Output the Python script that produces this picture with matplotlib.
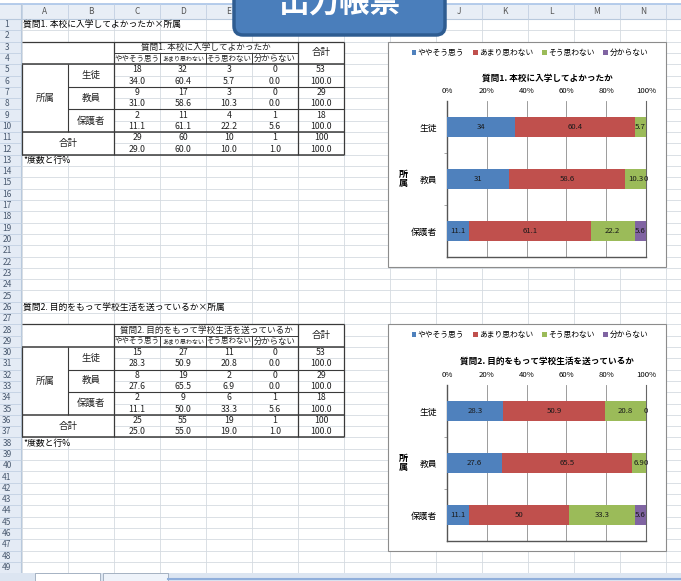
import matplotlib
matplotlib.use('Agg')
import matplotlib.pyplot as plt
import numpy as np
from matplotlib.patches import Rectangle, FancyBboxPatch

plt.rcParams['font.family'] = ['Noto Sans CJK JP', 'DejaVu Sans']

# --- data ---
groups = ['生徒', '教員', '保護者']
answers = ['ややそう思う', 'あまり思わない', 'そう思わない', '分からない']
row_totals = [53, 29, 18]
grand_total = 100

q1_title = '質問1. 本校に入学してよかったか'
q1_counts = [[18, 32, 3, 0], [9, 17, 3, 0], [2, 11, 4, 1]]
q1_pct = [[34.0, 60.4, 5.7, 0.0], [31.0, 58.6, 10.3, 0.0], [11.1, 61.1, 22.2, 5.6]]
q1_total_counts = [29, 60, 10, 1]
q1_total_pct = [29.0, 60.0, 10.0, 1.0]

q2_title = '質問2. 目的をもって学校生活を送っているか'
q2_counts = [[15, 27, 11, 0], [8, 19, 2, 0], [2, 9, 6, 1]]
q2_pct = [[28.3, 50.9, 20.8, 0.0], [27.6, 65.5, 6.9, 0.0], [11.1, 50.0, 33.3, 5.6]]
q2_total_counts = [25, 55, 19, 1]
q2_total_pct = [25.0, 55.0, 19.0, 1.0]

colors = ['#4F81BD', '#C0504D', '#9BBB59', '#8064A2']
col_letters = list('ABCDEFGHIJKLMN')
header_sizes = [5.4, 4.3, 5.4, 6.0]  # row-4 header labels are squeezed in excel

# --- sheet canvas in pixel coords ---
W, H = 681, 581
fig = plt.figure(figsize=(W / 100, H / 100), dpi=100)
ax = fig.add_axes([0, 0, 1, 1])
ax.set_xlim(0, W); ax.set_ylim(H, 0); ax.axis('off')

X0 = 22; CW = 46; Y0 = 19; RH = 11.31; YEND = 573
grid_c = '#D5DAE1'; dark = '#3A3A3A'
banner_x = (234, 445)

def cx(c): return X0 + c * CW
def ry(r): return Y0 + (r - 1) * RH
def hl(y, c1, c2, lw=0.9): ax.plot([cx(c1), cx(c2)], [y, y], color=dark, lw=lw, zorder=3, solid_capstyle='butt')
def vl(x, r1, r2, lw=0.9): ax.plot([x, x], [ry(r1), ry(r2)], color=dark, lw=lw, zorder=3, solid_capstyle='butt')

# gridlines
for c in range(16):
    ax.plot([cx(c)] * 2, [Y0, YEND], color=grid_c, lw=0.6, zorder=1)
for r in range(1, 51):
    ax.plot([X0, W], [ry(r)] * 2, color=grid_c, lw=0.6, zorder=1)

# column / row headers
ax.add_patch(Rectangle((0, 4), W, 15, fc='#E8EEF6', ec='none', zorder=1))
ax.add_patch(Rectangle((0, 19), 21, YEND - 19, fc='#E4EBF5', ec='none', zorder=1))
ax.plot([0, W], [3.5, 3.5], color='#A9C4E8', lw=1.2, zorder=1)
ax.plot([0, W], [19, 19], color='#B8C9DD', lw=0.8, zorder=1)
ax.plot([21, 21], [4, YEND], color='#B8C9DD', lw=0.8, zorder=1)
for c in range(15):
    ax.plot([cx(c)] * 2, [4, 19], color='#C2D0E2', lw=0.6, zorder=1)
for c, letter in enumerate(col_letters):
    xm = cx(c) + CW / 2
    if banner_x[0] - 4 < xm < banner_x[1] + 4:
        continue  # hidden under the banner
    ax.text(xm, 11.5, letter, fontsize=6, color='#555555', ha='center', va='center', zorder=2)
for r in range(1, 50):
    ax.plot([0, 21], [ry(r + 1)] * 2, color='#C2D0E2', lw=0.6, zorder=1)
    ax.text(7, ry(r) + RH / 2, str(r), fontsize=6, color='#4A5A70', ha='center', va='center', zorder=2)

# sheet tab bar
ax.add_patch(Rectangle((0, YEND), W, H - YEND, fc='#DCE5F1', ec='none', zorder=6))
ax.add_patch(Rectangle((35, YEND), 65, 9, fc='white', ec='#9AA8BA', lw=0.6, zorder=6))
ax.add_patch(Rectangle((103, YEND), 65, 9, fc='#EEF3FA', ec='#9AA8BA', lw=0.6, zorder=6))
ax.plot([168, W], [579, 579], color='#8FAEDB', lw=1.5, zorder=6)


def draw_table(r0, title, counts, pct, tot_counts, tot_pct):
    ax.text(X0 + 1, ry(r0) + RH / 2, title + '×所属', fontsize=6.3, ha='left', va='center', zorder=4)
    r3 = r0 + 2
    merged = [(0, r3, 2, 2), (2, r3, 4, 1), (6, r3, 1, 2), (0, r3 + 2, 1, 6), (0, r3 + 8, 2, 2)]
    merged += [(1, r3 + 2 + 2 * i, 1, 2) for i in range(3)]
    for c, r, w, h in merged:
        ax.add_patch(Rectangle((cx(c) + 0.5, ry(r) + 0.5), w * CW - 1, h * RH - 1, fc='white', ec='none', zorder=2))

    def ctext(c, r, s, w=1, h=1, fs=6.3):
        ax.text(cx(c) + w * CW / 2, ry(r) + h * RH / 2, s, fontsize=fs, ha='center', va='center',
                color='#222222', zorder=4)

    ctext(2, r3, title, w=4, fs=6.2)
    ctext(6, r3, '合計', h=2, fs=6.8)
    for j, a in enumerate(answers):
        ctext(2 + j, r3 + 1, a, fs=header_sizes[j])
    ctext(0, r3 + 2, '所属', h=6, fs=6.8)
    for i, g in enumerate(groups):
        rr = r3 + 2 + 2 * i
        ctext(1, rr, g, h=2, fs=6.8)
        for j in range(4):
            ctext(2 + j, rr, str(counts[i][j]))
            ctext(2 + j, rr + 1, '%.1f' % pct[i][j])
        ctext(6, rr, str(row_totals[i]))
        ctext(6, rr + 1, '%.1f' % 100)
    rt = r3 + 8
    ctext(0, rt, '合計', w=2, h=2, fs=6.8)
    for j in range(4):
        ctext(2 + j, rt, str(tot_counts[j]))
        ctext(2 + j, rt + 1, '%.1f' % tot_pct[j])
    ctext(6, rt, str(grand_total))
    ctext(6, rt + 1, '%.1f' % 100)
    ax.text(X0 + 1, ry(r3 + 10) + RH / 2, '*度数と行%', fontsize=6.3, ha='left', va='center', zorder=4)

    # borders
    hl(ry(r3), 0, 7)
    hl(ry(r3 + 1), 2, 6, lw=0.7)
    hl(ry(r3 + 2), 0, 7, lw=1.1)
    hl(ry(r3 + 4), 1, 7, lw=0.8)
    hl(ry(r3 + 6), 1, 7, lw=0.8)
    hl(ry(r3 + 8), 0, 7, lw=1.1)
    hl(ry(r3 + 10), 0, 7, lw=1.1)
    vl(cx(0), r3 + 2, r3 + 10)
    vl(cx(1), r3 + 2, r3 + 8, lw=0.8)
    vl(cx(2), r3, r3 + 10)
    for c in (3, 4, 5):
        vl(cx(c), r3 + 1, r3 + 2, lw=0.7)
    vl(cx(6), r3, r3 + 10)
    vl(cx(7), r3, r3 + 10)


def draw_chart(box, plot, legend_y, title_y, title, pct):
    bx0, bx1 = 388, 666
    ax.add_patch(Rectangle((bx0, box[0]), bx1 - bx0, box[1] - box[0], fc='white', ec='#8C8C8C', lw=0.8, zorder=5))
    px0, px1 = 447, 646
    bax = fig.add_axes([px0 / W, 1 - plot[1] / H, (px1 - px0) / W, (plot[1] - plot[0]) / H])
    data = np.array(pct)
    ypos = np.arange(len(groups))
    left = np.zeros(len(groups))
    for j, a in enumerate(answers):
        bars = bax.barh(ypos, data[:, j], left=left, height=0.39, color=colors[j], label=a, zorder=3)
        bax.bar_label(bars, labels=['%g' % v for v in data[:, j]], label_type='center',
                      fontsize=5.6, color='#1A1A1A')
        left += data[:, j]
    bax.set_xlim(0, 100)
    bax.set_ylim(len(groups) - 0.5, -0.5)
    bax.xaxis.tick_top()
    bax.set_xticks(np.arange(0, 101, 20))
    bax.set_xticklabels(['%d%%' % v for v in range(0, 101, 20)])
    bax.tick_params(axis='x', length=0, pad=4, labelsize=5.6)
    bax.set_yticks(ypos)
    bax.set_yticklabels(groups)
    bax.tick_params(axis='y', length=0, pad=7, labelsize=6.3)
    bax.set_yticks([0.5, 1.5], minor=True)
    bax.tick_params(axis='y', which='minor', length=2, color='#999999')
    bax.grid(axis='x', color='#8C8C8C', lw=0.6, zorder=0)
    bax.set_axisbelow(True)
    bax.spines['top'].set_visible(False)
    bax.spines['left'].set_color('#555555'); bax.spines['left'].set_linewidth(1.0)
    bax.spines['bottom'].set_color('#555555'); bax.spines['bottom'].set_linewidth(1.0)
    bax.spines['right'].set_color('#666666'); bax.spines['right'].set_linewidth(0.8)
    bax.legend(ncol=4, loc='center', bbox_to_anchor=(530, legend_y), bbox_transform=ax.transData,
               frameon=False, fontsize=5.6, handlelength=0.6, handleheight=0.6,
               handletextpad=0.2, columnspacing=1.1, borderpad=0)
    ax.text(547, title_y, title, fontsize=6.2, fontweight='bold', ha='center', va='center', zorder=6)
    ax.text(403, (plot[0] + plot[1]) / 2, '所\n属', fontsize=6.5, fontweight='bold',
            ha='center', va='center', linespacing=1.1, zorder=6)


draw_table(1, q1_title, q1_counts, q1_pct, q1_total_counts, q1_total_pct)
draw_table(26, q2_title, q2_counts, q2_pct, q2_total_counts, q2_total_pct)
draw_chart((42, 267), (101, 257), 53, 78, q1_title, q1_pct)
draw_chart((324, 551), (385, 541), 335, 361, q2_title, q2_pct)

# banner overlay (its text runs off the top edge, as in the screenshot)
ax.add_patch(FancyBboxPatch((banner_x[0], -20), banner_x[1] - banner_x[0], 55,
                            boxstyle='round,pad=0,rounding_size=9',
                            fc='#4A7EBB', ec='#2E5C91', lw=2.5, zorder=10))
ax.text(340, 3, '出力帳票', fontsize=22, fontweight='bold', color='white',
        ha='center', va='center', zorder=11)

fig.savefig('out.png', dpi=100)
